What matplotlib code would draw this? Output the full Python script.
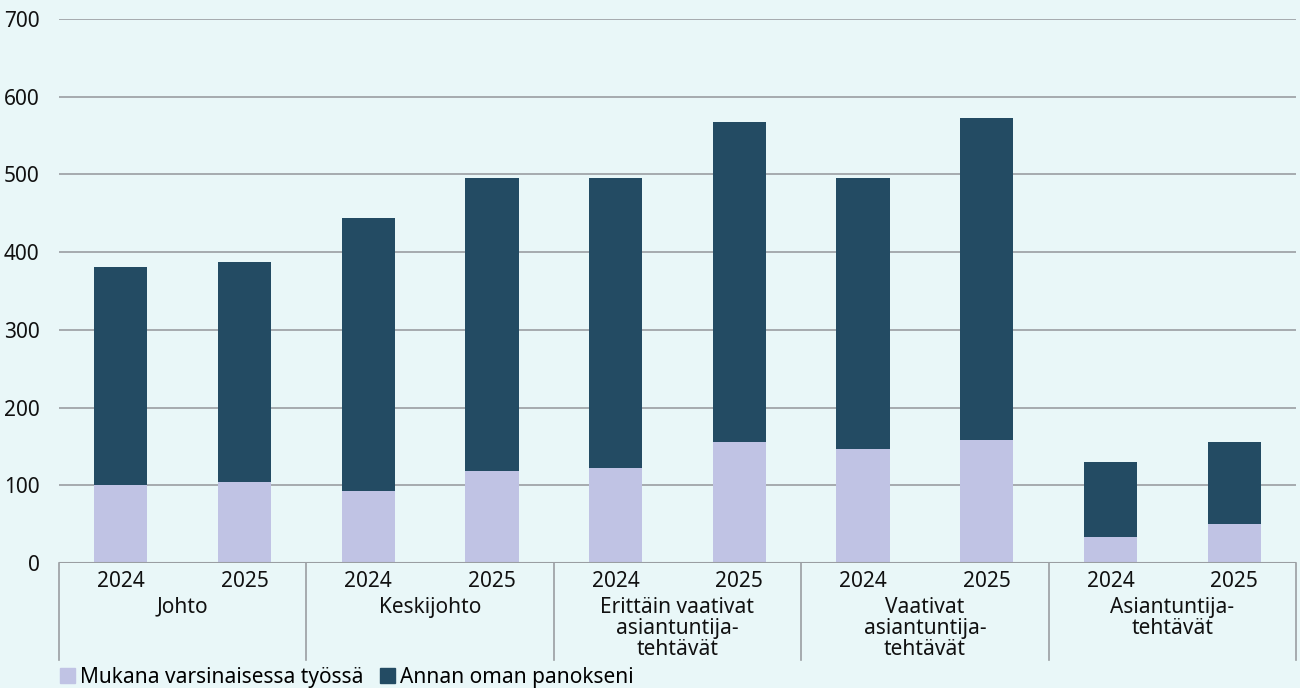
import numpy as np
import matplotlib
matplotlib.use("Agg")
import matplotlib.pyplot as plt
from matplotlib.patches import Patch

plt.rcParams['font.family'] = ['Noto Sans', 'DejaVu Sans']

groups = ["Johto", "Keskijohto", "Erittäin vaativat\nasiantuntija-\ntehtävät",
          "Vaativat\nasiantuntija-\ntehtävät", "Asiantuntija-\ntehtävät"]
years = ["2024", "2025"]
mukana = [100, 104, 93, 118, 122, 156, 147, 158, 33, 50]
panos = [281, 283, 351, 377, 373, 411, 348, 415, 97, 106]

bg = "#e9f7f8"
light = "#c0c3e4"
dark = "#234b63"
grid = "#9a9ea2"

fig = plt.figure(figsize=(13, 6.88), dpi=100, facecolor=bg)
ax = fig.add_axes([59/1300, 125/688, 1237/1300, 544/688], facecolor=bg)

x = np.arange(len(mukana))
ax.bar(x, mukana, width=0.43, color=light, zorder=3)
ax.bar(x, panos, width=0.43, bottom=mukana, color=dark, zorder=3)

ax.set_xlim(-0.5, len(mukana) - 0.5)
ax.set_ylim(0, 700)
ax.set_yticks(range(0, 701, 100))
ax.yaxis.grid(True, color=grid, linewidth=1.2)
ax.set_axisbelow(True)
for s in ax.spines.values():
    s.set_visible(False)
ax.axhline(0, color=grid, linewidth=1.5, zorder=4)

ax.set_xticks(x)
ax.set_xticklabels(years * len(groups))
ax.tick_params(axis='both', length=0, labelsize=15, colors='#111111')
ax.tick_params(axis='x', pad=6)
ax.tick_params(axis='y', pad=14)

tr = ax.get_xaxis_transform()
for i, g in enumerate(groups):
    ax.text(2 * i + 0.5, -0.062, g, transform=tr, ha='center', va='top',
            fontsize=15, linespacing=1.0, color='#111111')
for b in range(len(groups) + 1):
    ax.plot([2 * b - 0.5, 2 * b - 0.5], [0, -0.178], transform=tr,
            color=grid, linewidth=1.2, clip_on=False)

handles = [Patch(color=light, label="Mukana varsinaisessa työssä"),
           Patch(color=dark, label="Annan oman panokseni")]
fig.legend(handles=handles, loc='lower left', bbox_to_anchor=(0.04, -0.012),
           ncol=2, frameon=False, fontsize=15, handlelength=0.7, handleheight=0.7,
           handletextpad=0.25, columnspacing=0.8, borderaxespad=0)

fig.savefig("out.png", dpi=100, facecolor=bg)
